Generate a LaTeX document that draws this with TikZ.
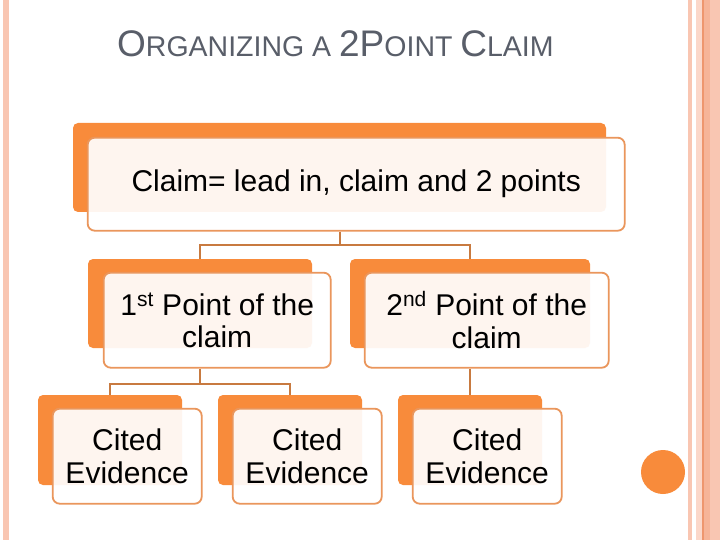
\documentclass[tikz,border=0pt]{standalone}
\usepackage{fontspec}
\setmainfont{Liberation Sans}
\usetikzlibrary{calc, positioning}

\definecolor{boxorange}{RGB}{248,139,59}
\definecolor{rimorange}{RGB}{234,150,92}
\definecolor{linkbrown}{RGB}{200,122,64}
\definecolor{titlegray}{RGB}{89,94,105}
\definecolor{stripsalmon}{RGB}{249,198,178}
\definecolor{stripdeep}{RGB}{246,180,152}
\definecolor{striprim}{RGB}{238,150,110}

\newcommand\titlebig[1]{{\fontsize{37}{42}\selectfont #1}}
\newcommand\titlesmall[1]{{\fontsize{28.5}{42}\selectfont #1}}

\tikzset{
  backbox/.style={fill=boxorange, rounded corners=5pt, inner sep=0pt},
  frontbox/.style={draw=rimorange, line width=1.8pt, fill=white, fill opacity=0.92,
    text opacity=1, rounded corners=7pt, align=center, inner sep=0pt,
    anchor=north west, font=\fontsize{30}{32.5}\selectfont},
  link/.style={draw=linkbrown, line width=2pt}
}

\begin{document}
\begin{tikzpicture}[x=1pt, y=-1pt]

    % 1. Seite und Randstreifen
    \useasboundingbox (0,0) rectangle (720,540);
    \fill[white] (0,0) rectangle (720,540);
    \fill[stripsalmon] (3,0) rectangle (9,540);
    \fill[stripsalmon] (688,0) rectangle (692,540);
    \fill[stripsalmon!70!white] (696,0) rectangle (702,540);
    \fill[striprim] (702,0) rectangle (703.5,540);
    \fill[stripdeep] (703.5,0) rectangle (710,540);
    \fill[stripsalmon] (710,0) rectangle (720,540);

    % Titel
    \node[titlegray, anchor=base west, inner sep=0pt] (title) at (117,57)
      {\titlebig{O}\titlesmall{RGANIZING A }\titlebig{2P}\titlesmall{OINT }\titlebig{C}\titlesmall{LAIM}};

    % 2. Obere Ebene
    \node[backbox, minimum width=533pt, minimum height=89pt] (claimback) at (339.5,167.5) {};
    \node[frontbox, minimum width=537pt, minimum height=93pt] (claim)
      at ($(claimback.north west)+(14,14)$) {Claim= lead in, claim and 2 points};

    % 3. Zweite Ebene
    \node[backbox, minimum width=224pt, minimum height=89pt] (firstback) at (200,303.5) {};
    \node[frontbox, minimum width=227pt, minimum height=95pt] (first)
      at ($(firstback.north west)+(15,13)$) {1\textsuperscript{st} Point of the\\claim};
    \node[backbox, minimum width=240pt, minimum height=89pt] (secondback) at (470,303.5) {};
    \node[frontbox, minimum width=244pt, minimum height=95pt] (second)
      at ($(secondback.north west)+(14,13)$) {2\textsuperscript{nd} Point of the\\claim};

    % 4. Belege
    \foreach \name/\x in {citeA/110, citeB/290, citeC/470} {
      \node[backbox, minimum width=144pt, minimum height=90pt] (\name back) at (\x,440) {};
      \node[frontbox, minimum width=149pt, minimum height=95pt] (\name)
        at ($(\name back.north west)+(14,13)$) {Cited\\Evidence};
    }

    % 5. Verbindungslinien
    \coordinate (forkA) at ($(claimback |- claim.south)+(0,13)$);
    \draw[link] (claimback |- claim.south) -- (forkA) -| (firstback.north);
    \draw[link] (forkA) -| (secondback.north);
    \coordinate (forkB) at ($(firstback |- first.south)+(0,15)$);
    \draw[link] (firstback |- first.south) -- (forkB) -| (citeAback.north);
    \draw[link] (forkB) -| (citeBback.north);
    \draw[link] (secondback |- second.south) -- (citeCback.north);

    % Punkt rechts unten
    \fill[boxorange] (663,472) circle (22);

\end{tikzpicture}
\end{document}
